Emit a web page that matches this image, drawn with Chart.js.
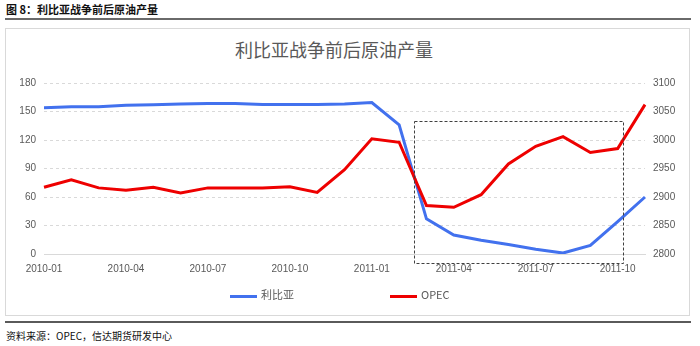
<!DOCTYPE html>
<html>
<head>
<meta charset="utf-8">
<script src="https://cdn.jsdelivr.net/npm/chart.js@4"></script>
<style>
  body { margin: 0; background: #fff; font-family: "Noto Sans CJK SC", "Noto Sans", sans-serif; }
  #page { position: relative; width: 700px; height: 346px; overflow: hidden; }
  #head { position: absolute; left: 6px; top: 1px; font-size: 11px; font-weight: bold; color: #111; }
  #ruleTop { position: absolute; left: 5px; top: 18px; width: 686px; height: 2px; background: #6a6a6a; }
  #frame { position: absolute; left: 5px; top: 28px; width: 683px; height: 286px; border: 1px solid #d9d9d9; }
  #chartTitle { position: absolute; left: 235px; top: 36px; font-size: 18px; color: #595959; }
  #chartWrap { position: absolute; left: 6px; top: 29px; width: 682px; height: 285px; }
  #legend { position: absolute; top: 286px; font-size: 11px; color: #595959; }
  .lg { position: absolute; white-space: nowrap; }
  .lg i { display: inline-block; width: 27px; height: 3px; vertical-align: middle; margin-right: 4px; }
  #ruleBot { position: absolute; left: 5px; top: 321px; width: 686px; height: 2px; background: #5a5a5a; }
  #source { position: absolute; left: 6px; top: 328px; font-size: 10px; color: #111; }
</style>
</head>
<body>
<div id="page">
  <div id="head">图 8：利比亚战争前后原油产量</div>
  <div id="ruleTop"></div>
  <div id="frame"></div>
  <div id="chartTitle">利比亚战争前后原油产量</div>
  <div id="chartWrap"><canvas id="oilChart"></canvas></div>
  <div id="legend">
    <span class="lg" style="left:230px"><i style="background:#4271ee"></i>利比亚</span>
    <span class="lg" style="left:390px"><i style="background:#ee0000"></i>OPEC</span>
  </div>
  <div id="ruleBot"></div>
  <div id="source">资料来源：OPEC，信达期货研发中心</div>
</div>
<script>
const months = ["2010-01", "2010-02", "2010-03", "2010-04", "2010-05", "2010-06",
  "2010-07", "2010-08", "2010-09", "2010-10", "2010-11", "2010-12",
  "2011-01", "2011-02", "2011-03", "2011-04", "2011-05", "2011-06",
  "2011-07", "2011-08", "2011-09", "2011-10", "2011-11"];

// 利比亚 (left axis)
const libya = [154, 155, 155, 156.5, 157, 158, 158.5, 158.5, 157.5, 157.5, 157.5, 158,
  159.5, 136, 37, 20, 14.5, 10, 5, 1, 9, 34, 60];

// OPEC (right axis)
const opec = [2917, 2930, 2916, 2912, 2917, 2907, 2916, 2916, 2916, 2918, 2908, 2948,
  3002, 2996, 2885, 2882, 2904, 2958, 2989, 3006, 2978, 2985, 3062];

// dashed highlight box, in axis units (x = month index, y = left axis)
const boxX = [13.55, 21.2];
const boxY = [139.5, -9.5];

const tickFont = { family: "'Liberation Sans', Arial, sans-serif", size: 10 };
const tickColor = "#595959";

const boxPlugin = {
  id: "highlightBox",
  afterDatasetsDraw(chart) {
    const x = chart.scales.x, y = chart.scales.y;
    const x1 = x.getPixelForValue(boxX[0]), x2 = x.getPixelForValue(boxX[1]);
    const y1 = y.getPixelForValue(boxY[0]), y2 = y.getPixelForValue(boxY[1]);
    const ctx = chart.ctx;
    ctx.save();
    ctx.strokeStyle = "#404040";
    ctx.lineWidth = 1;
    ctx.setLineDash([3, 2]);
    ctx.strokeRect(Math.round(x1) + 0.5, Math.round(y1) + 0.5, Math.round(x2 - x1), Math.round(y2 - y1));
    ctx.restore();
  }
};

new Chart(document.getElementById("oilChart"), {
  type: "line",
  data: {
    labels: months,
    datasets: [
      { label: "利比亚", data: libya, yAxisID: "y", borderColor: "#4271ee", borderWidth: 3,
        pointRadius: 0, tension: 0, order: 1 },
      { label: "OPEC", data: opec, yAxisID: "y1", borderColor: "#ee0000", borderWidth: 3,
        pointRadius: 0, tension: 0, order: 0 }
    ]
  },
  options: {
    responsive: true,
    maintainAspectRatio: false,
    animation: false,
    layout: { padding: { top: 54, bottom: 40, left: 0, right: 0 } },
    plugins: { legend: { display: false }, tooltip: { enabled: false } },
    scales: {
      x: {
        grid: { display: false, drawTicks: false },
        border: { display: true, color: "#d9d9d9", width: 1 },
        ticks: {
          autoSkip: false, maxRotation: 0, padding: 9, font: tickFont, color: tickColor,
          callback: function (val, idx) { return idx % 3 === 0 ? this.getLabelForValue(val) : ""; }
        },
        afterFit: (s) => { s.height = 20; }
      },
      y: {
        position: "left", min: 0, max: 180,
        grid: { color: "#d9d9d9", drawTicks: false },
        border: { display: false, dash: [3, 3] },
        ticks: { stepSize: 30, padding: 8, font: tickFont, color: tickColor },
        afterFit: (s) => { s.width = 38; }
      },
      y1: {
        position: "right", min: 2800, max: 3100,
        grid: { drawOnChartArea: false, drawTicks: false },
        border: { display: false },
        ticks: { stepSize: 50, padding: 8, font: tickFont, color: tickColor,
          callback: (v) => String(v) },
        afterFit: (s) => { s.width = 43; }
      }
    }
  },
  plugins: [boxPlugin]
});
</script>
</body>
</html>
